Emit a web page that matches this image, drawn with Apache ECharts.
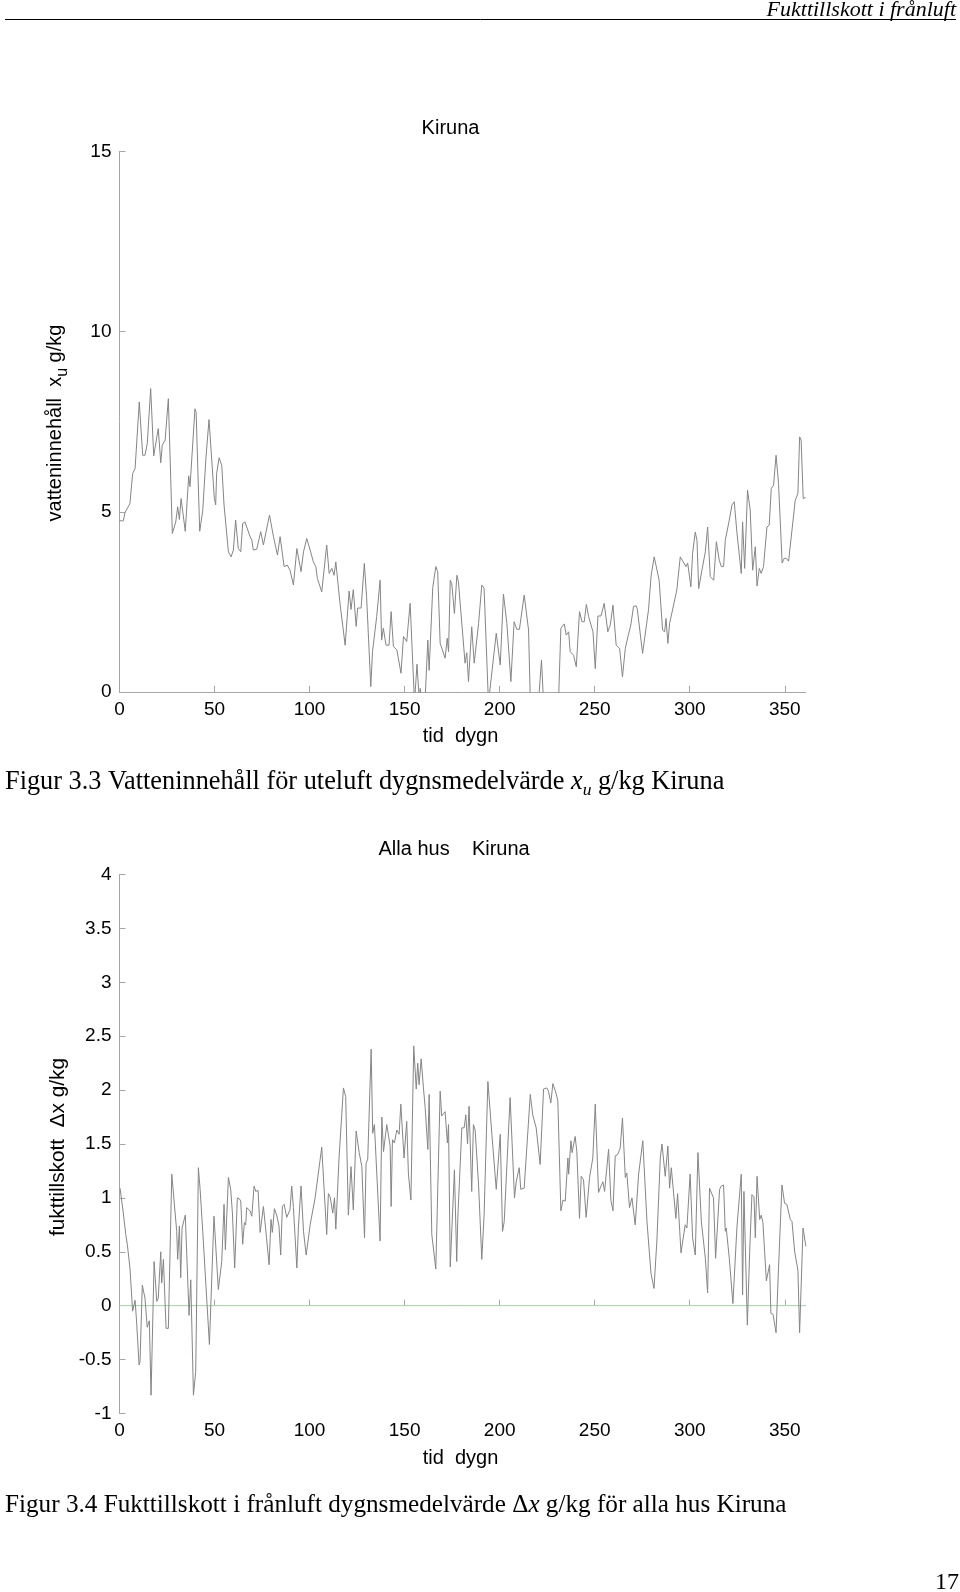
<!DOCTYPE html>
<html>
<head>
<meta charset="utf-8">
<script src="https://cdn.jsdelivr.net/npm/echarts@6/dist/echarts.min.js"></script>
<style>
  html, body { margin: 0; padding: 0; background: #ffffff; }
  #chart { width: 960px; height: 1592px; }
</style>
</head>
<body>
<div id="chart"></div>
<script>
// ---- Data ----
// Tick labels
const dayTicks = [0, 50, 100, 150, 200, 250, 300, 350];
const xuTickRange = { min: 0, max: 15, interval: 5 };
const dxTickRange = { min: -1, max: 4, interval: 0.5 };

// Figur 3.3: outdoor moisture content x_u (g/kg), [day, value]
const xuSeries = [
  [0,4.75],[2,4.75],[2.9,4.98],[5.5,5.23],[6.9,6.06],[8.2,6.2],[10.4,8.05],[12.2,6.57],[13.4,6.57],[14.6,6.89],
  [16.4,8.42],[18,6.55],[20.4,7.31],[21.7,6.36],[22.5,6.85],[24,6.99],[25.7,8.14],[27.8,4.4],[29.6,4.72],[30.6,5.14],
  [31.5,4.79],[32.4,5.37],[34.6,4.46],[36.4,6.0],[37.1,5.7],[39.7,7.86],[40.3,7.77],[42.2,4.46],[43.8,5.04],[45.5,6.52],
  [47.1,7.56],[49.9,5.37],[50.6,5.19],[51.1,6.06],[52.4,6.5],[53.8,6.29],[55,5.19],[55.9,5.14],[57.3,3.89],[58.7,3.75],
  [59.9,3.94],[61.1,4.77],[62.5,3.98],[63.8,3.89],[64.8,4.68],[66,4.72],[68.7,4.31],[69.6,4.22],[70.4,3.94],[72.2,3.96],
  [74.3,4.45],[75.7,4.08],[78.9,4.91],[81,4.31],[83.1,3.8],[84.5,4.31],[86.6,3.48],[88.3,3.52],[89.7,3.38],[91.5,2.97],
  [93.3,3.98],[94.1,3.94],[95.5,3.34],[96.8,3.89],[98.5,4.26],[100.3,3.94],[102,3.61],[103.3,3.48],[104.1,3.15],[106.4,2.78],
  [109,4.08],[110.3,3.29],[111.7,3.43],[112.9,3.24],[113.8,3.61],[116,2.46],[118.7,1.3],[119.7,1.26],[120.8,2.8],[121.8,2.29],
  [123,2.84],[124.5,1.82],[125.3,2.33],[127.1,2.33],[128.8,3.57],[130,2.64],[132.2,0.15],[133.1,1.12],[135.3,2.09],[137.1,3.1],
  [137.9,1.44],[138.8,1.77],[140.2,1.3],[141.8,1.3],[142.9,2.23],[144.1,1.26],[145.9,1.17],[146.7,1.17],[148.1,0.52],[149.4,1.54],
  [151.1,1.4],[152.9,2.46],[155.2,-0.3],[156.5,0.77],[157.7,-0.2],[158.2,0.1],[159.5,-0.4],[160.8,-0.2],[162.2,1.44],[162.9,0.6],
  [164.8,2.9],[166.4,3.48],[167.4,3.34],[168.7,1.35],[169.6,1.4],[171.3,0.94],[172.4,1.49],[173.1,1.12],[174,3.1],[174.8,3.01],
  [176.2,2.18],[177.5,3.24],[178.3,3.06],[179.2,3.06],[181.8,0.8],[182.7,1.09],[183.6,0.29],[185.3,1.81],[186.6,0.8],[187.1,0.8],
  [188.9,1.9],[190.6,2.97],[191.8,2.88],[194.1,-0.3],[198.2,1.63],[198.9,1.63],[200.3,0.75],[202,2.72],[203.8,1.9],[205.9,0.29],
  [207.6,1.95],[209,1.74],[210.4,1.74],[212.9,2.69],[215.2,1.72],[216.1,-0.2],[218,-0.8],[220.4,-0.3],[222,0.89],[223.1,-0.3],
  [226,-1.0],[229,-0.8],[231,-0.2],[232.2,1.77],[234,1.89],[235,1.58],[236.3,1.67],[237.1,1.12],[238.9,1.02],[240.3,0.7],
  [242,2.23],[243.3,1.95],[244.5,1.95],[245.6,2.43],[246.8,2.09],[249.1,1.67],[250.3,0.65],[251.7,2.11],[253.3,2.11],[255,2.46],
  [256.9,1.67],[258.2,1.86],[259.6,2.41],[261.3,1.3],[263.1,1.21],[264.6,0.42],[266.1,1.21],[267.5,1.54],[269,1.86],[270.4,2.37],
  [271.8,2.39],[272.4,2.3],[275.2,1.07],[278.3,2.28],[279.7,3.24],[281.3,3.75],[282.2,3.73],[283.9,3.1],[285.7,1.72],[286.8,1.67],
  [287.5,2.04],[288.5,1.35],[289.4,1.9],[290.3,1.9],[293.2,2.83],[293.8,2.83],[295,3.75],[295.9,3.8],[298,3.48],[298.9,3.58],
  [300.6,2.92],[301.5,3.85],[302.9,4.44],[303.8,4.21],[304.7,2.87],[306.4,3.38],[308.2,3.89],[309.4,4.58],[310.8,3.2],[312.6,3.1],
  [314,4.17],[315.5,3.66],[316.6,3.48],[317.8,3.48],[318.7,4.21],[319.6,4.21],[320.8,4.77],[322.2,5.19],[323.4,5.28],[324.8,4.44],
  [327.1,3.29],[327.8,4.72],[328.9,3.43],[330.4,5.6],[331.8,5.05],[333.1,3.38],[333.6,3.34],[334.5,4.03],[335.4,2.94],[336.6,3.43],
  [337.6,3.29],[338.8,3.48],[340.6,4.58],[341.8,4.63],[342.9,5.65],[344.1,5.74],[345.4,6.57],[346.7,5.79],[348.6,3.58],[349.7,3.71],
  [350.8,3.71],[352,3.63],[355.5,5.32],[356.9,5.51],[357.8,7.08],[358.6,6.99],[359.7,5.37],[361,5.4]
];

// Figur 3.4: moisture supply Δx (g/kg), all houses, [day, value]
const dxSeries = [
  [0.3,1.09],[2,0.86],[3.3,0.66],[4.1,0.57],[5.5,0.35],[6.9,-0.05],[8.2,0.05],[9,-0.15],[10.3,-0.55],[10.8,-0.52],
  [12,0.19],[13.4,0.07],[14.6,-0.2],[15.7,-0.14],[16.6,-0.83],[18.2,0.41],[19.6,0.04],[20.4,0.07],[21.7,0.5],[22.2,0.21],
  [23.1,0.43],[24.5,-0.21],[25.7,-0.21],[27.5,1.22],[28.3,1.22],[30.1,0.69],[30.6,0.43],[31.5,0.74],[32.2,0.26],[32.9,0.72],
  [34.6,0.84],[36.6,-0.09],[37.5,0.24],[38.9,-0.83],[40.1,-0.61],[41.5,1.28],[42.4,1.08],[43.8,0.69],[47.3,-0.36],[49.7,0.83],
  [50.4,0.82],[52,0.15],[53.8,0.41],[55,0.94],[55.7,0.52],[57.3,1.19],[58.5,1.08],[59.4,0.86],[60.6,0.35],[62,1.0],
  [63.1,0.99],[63.8,0.97],[64.8,0.57],[65.7,0.77],[66.4,0.75],[66.9,0.91],[68.7,0.88],[69.6,0.83],[70.8,1.11],[71.7,1.06],
  [72.9,1.07],[74,0.68],[74.8,0.68],[75.7,0.92],[76.9,0.71],[78.7,0.38],[79.7,0.8],[80.4,0.68],[81.5,0.9],[82.7,0.84],
  [83.9,0.74],[84.8,0.47],[85.7,0.92],[86.6,0.94],[88,0.82],[89.7,0.89],[90.6,1.11],[91.5,0.91],[93.3,0.35],[94.1,0.72],
  [95.5,1.11],[96.8,0.69],[98.2,0.47],[100.3,0.75],[102.9,1.0],[106.4,1.47],[109,0.66],[109.9,1.04],[110.8,1.01],[112.2,0.86],
  [113.1,1.0],[113.8,0.71],[115.5,1.37],[117.8,2.02],[119,1.94],[120.4,0.84],[121.8,1.29],[123,0.89],[124.5,1.62],[126.1,1.42],
  [127.5,1.29],[128.9,0.63],[129.7,1.32],[130.6,1.36],[132.4,2.38],[133.2,1.6],[134.1,1.68],[135.9,1.03],[137.1,0.6],[138,1.75],
  [138.9,1.43],[140.6,1.68],[142.4,1.48],[142.9,0.92],[143.6,1.54],[144.6,1.51],[145.9,1.63],[147.1,1.59],[148,1.87],[149.7,1.37],
  [151.1,1.71],[152,1.22],[153.3,0.98],[154.8,2.41],[156.1,2.01],[156.9,2.25],[157.6,2.05],[158.7,2.29],[159.9,2.02],[160.8,1.84],
  [162.2,1.45],[162.9,1.96],[164.3,0.66],[166.4,0.34],[168.7,1.99],[169.5,1.76],[171.3,1.8],[172.5,1.51],[173.1,1.68],[174,0.36],
  [176.2,1.26],[177.4,0.41],[178,0.82],[178.7,0.82],[180.1,1.65],[181.3,1.65],[182.2,1.77],[183.1,1.5],[183.9,1.85],[185.3,1.06],
  [186.2,1.68],[187.1,1.63],[188.9,1.12],[190.6,0.43],[191.8,0.84],[193.8,2.08],[195.9,1.59],[198.2,1.08],[200.3,1.59],[201.5,0.69],
  [202.4,0.78],[205.5,1.93],[207.8,1.0],[208.7,1.15],[210.3,1.28],[211.1,1.08],[212.9,1.09],[216.1,1.96],[217.4,1.77],[219.2,1.65],
  [221.3,1.31],[223.1,2.01],[224.8,2.02],[225.7,1.99],[226.9,1.88],[228,2.06],[229.7,1.97],[230.6,1.9],[232.2,0.88],[233.3,0.98],
  [234.5,0.97],[235.9,1.37],[236.3,1.22],[237.5,1.53],[238.1,1.42],[239.7,1.57],[240.6,1.43],[242,0.81],[242.9,1.2],[244.1,1.17],
  [245.5,0.82],[247.3,1.19],[249,1.37],[250.3,1.87],[252,1.05],[253.3,1.11],[254.3,1.15],[255.2,1.06],[257.3,1.45],[258.5,0.98],
  [259.6,0.88],[260.8,1.39],[262,1.4],[263.4,1.46],[264.6,1.74],[266.1,1.19],[266.9,1.23],[268.3,0.91],[269.6,1.0],[271.3,0.75],
  [273.1,1.22],[275.3,1.53],[277.5,0.78],[279.6,0.3],[280.1,0.31],[281.2,0.16],[282.7,0.6],[284.5,1.37],[285.4,1.5],[286.2,1.5],
  [287.1,1.2],[288.5,1.48],[289.4,1.09],[290.3,1.28],[292.7,0.81],[293.6,1.04],[295.4,0.49],[297.6,0.75],[298.5,0.72],[300.2,1.22],
  [301.5,0.63],[302.9,0.47],[304.3,1.42],[306.1,0.78],[308.2,0.44],[309.4,0.12],[310.4,1.09],[312.5,1.0],[313.6,0.44],[315.7,1.08],
  [316.6,1.11],[317.8,1.12],[318.7,0.69],[319.2,0.72],[320.8,0.44],[322.7,0.02],[324.8,0.72],[327.1,1.22],[327.8,0.1],[328.5,1.06],
  [330.3,-0.18],[331.5,0.49],[332.7,1.03],[333.8,1.01],[334.5,0.63],[335.4,1.2],[336.8,0.8],[337.6,0.84],[338.5,0.77],[340.3,0.23],
  [342,0.38],[342.7,-0.07],[343.8,-0.08],[345.4,-0.25],[346.7,0.35],[348.5,1.12],[349.9,0.95],[351.1,0.94],[352,0.94],[352.9,0.8],
  [353.8,0.78],[355.2,0.5],[356.9,0.33],[357.8,-0.25],[359.6,0.72],[361.1,0.55]
];
const zeroRef = [[0, 0], [361, 0]];
const dayMax = 361;

// ---- Chart ----
const SANS = '"Liberation Sans", Arial, sans-serif';
const SERIF = '"Liberation Serif", "Times New Roman", serif';
const AXIS_GRAY = '#a6a6a6';
const LINE_GRAY = '#858585';

function xAxisDef(gridIndex) {
  return {
    type: 'value', gridIndex, min: 0, max: dayMax,
    axisLine: { show: true, lineStyle: { color: AXIS_GRAY, width: 1 } },
    axisTick: { show: true, inside: true, length: 6, lineStyle: { color: AXIS_GRAY }, customValues: dayTicks },
    axisLabel: { color: '#000', fontFamily: SANS, fontSize: 19, margin: 8, customValues: dayTicks },
    splitLine: { show: false }
  };
}
function yAxisDef(gridIndex, r) {
  return {
    type: 'value', gridIndex, min: r.min, max: r.max, interval: r.interval,
    axisLine: { show: true, lineStyle: { color: AXIS_GRAY, width: 1 } },
    axisTick: { show: true, inside: true, length: 6, lineStyle: { color: AXIS_GRAY } },
    axisLabel: { color: '#000', fontFamily: SANS, fontSize: 19, margin: 8 },
    splitLine: { show: false }
  };
}

const chart = echarts.init(document.getElementById('chart'), null, { renderer: 'canvas' });

const option = {
  animation: false,
  backgroundColor: '#ffffff',
  grid: [
    { left: 119.5, width: 686.2, top: 151.5, height: 540.5 },
    { left: 119.5, width: 686.2, top: 874.5, height: 539 }
  ],
  xAxis: [xAxisDef(0), xAxisDef(1)],
  yAxis: [yAxisDef(0, xuTickRange), yAxisDef(1, dxTickRange)],
  series: [
    {
      type: 'line', xAxisIndex: 0, yAxisIndex: 0, data: xuSeries,
      showSymbol: false, clip: true,
      lineStyle: { color: LINE_GRAY, width: 1 }
    },
    {
      type: 'line', xAxisIndex: 1, yAxisIndex: 1, data: zeroRef,
      showSymbol: false, clip: true, z: 1,
      lineStyle: { color: '#b5e2b5', width: 1 }
    },
    {
      type: 'line', xAxisIndex: 1, yAxisIndex: 1, data: dxSeries,
      showSymbol: false, clip: true, z: 2,
      lineStyle: { color: LINE_GRAY, width: 1 }
    }
  ],
  graphic: [
    // page header
    { type: 'text', x: 956, y: 10, style: { text: 'Fukttillskott i frånluft', fontFamily: SERIF, fontStyle: 'italic', fontSize: 22, fill: '#000', align: 'right', verticalAlign: 'middle' } },
    { type: 'line', shape: { x1: 5, y1: 19.5, x2: 956, y2: 19.5 }, style: { stroke: '#000', lineWidth: 1 } },
    // top chart texts
    { type: 'text', x: 450.5, y: 128, style: { text: 'Kiruna', fontFamily: SANS, fontSize: 20, fill: '#000', align: 'center', verticalAlign: 'middle' } },
    { type: 'text', x: 460.5, y: 736.5, style: { text: 'tid  dygn', fontFamily: SANS, fontSize: 20, fill: '#000', align: 'center', verticalAlign: 'middle' } },
    { type: 'text', x: 58, y: 423, rotation: Math.PI / 2,
      style: { text: '{a|vatteninnehåll  x}{s|u}{a| g/kg}', fill: '#000', align: 'center', verticalAlign: 'middle', fontFamily: SANS, fontSize: 20,
        rich: { a: { fontFamily: SANS, fontSize: 20, lineHeight: 26, verticalAlign: 'top' }, s: { fontFamily: SANS, fontSize: 16, lineHeight: 12, verticalAlign: 'bottom' } } } },
    // caption 3.3
    { type: 'text', x: 5, y: 784, style: { text: '{n|Figur 3.3 Vatteninnehåll för uteluft dygnsmedelvärde }{i|x}{s|u}{n| g/kg Kiruna}', fill: '#000', align: 'left', verticalAlign: 'middle', fontFamily: SERIF, fontSize: 26.3,
        rich: { n: { fontFamily: SERIF, fontSize: 26.3, lineHeight: 30, verticalAlign: 'top' }, i: { fontFamily: SERIF, fontStyle: 'italic', fontSize: 26.3, lineHeight: 30, verticalAlign: 'top' }, s: { fontFamily: SERIF, fontStyle: 'italic', fontSize: 17.5, lineHeight: 14, verticalAlign: 'bottom' } } } },
    // bottom chart texts
    { type: 'text', x: 378.5, y: 849, style: { text: 'Alla hus    Kiruna', fontFamily: SANS, fontSize: 20, fill: '#000', align: 'left', verticalAlign: 'middle' } },
    { type: 'text', x: 460.5, y: 1458.5, style: { text: 'tid  dygn', fontFamily: SANS, fontSize: 20, fill: '#000', align: 'center', verticalAlign: 'middle' } },
    { type: 'text', x: 58, y: 1147, rotation: Math.PI / 2,
      style: { text: 'fukttillskott  Δx g/kg', fontFamily: SANS, fontSize: 20.8, fill: '#000', align: 'center', verticalAlign: 'middle' } },
    // caption 3.4
    { type: 'text', x: 5, y: 1505, style: { text: '{n|Figur 3.4 Fukttillskott i frånluft dygnsmedelvärde Δ}{i|x}{n| g/kg för alla hus Kiruna}', fill: '#000', align: 'left', verticalAlign: 'middle', fontFamily: SERIF, fontSize: 25.2,
        rich: { n: { fontFamily: SERIF, fontSize: 25.2 }, i: { fontFamily: SERIF, fontStyle: 'italic', fontSize: 25.2 } } } },
    // page number
    { type: 'text', x: 959, y: 1583, style: { text: '17', fontFamily: SERIF, fontSize: 24, fill: '#000', align: 'right', verticalAlign: 'middle' } }
  ]
};
chart.setOption(option);
</script>
</body>
</html>
